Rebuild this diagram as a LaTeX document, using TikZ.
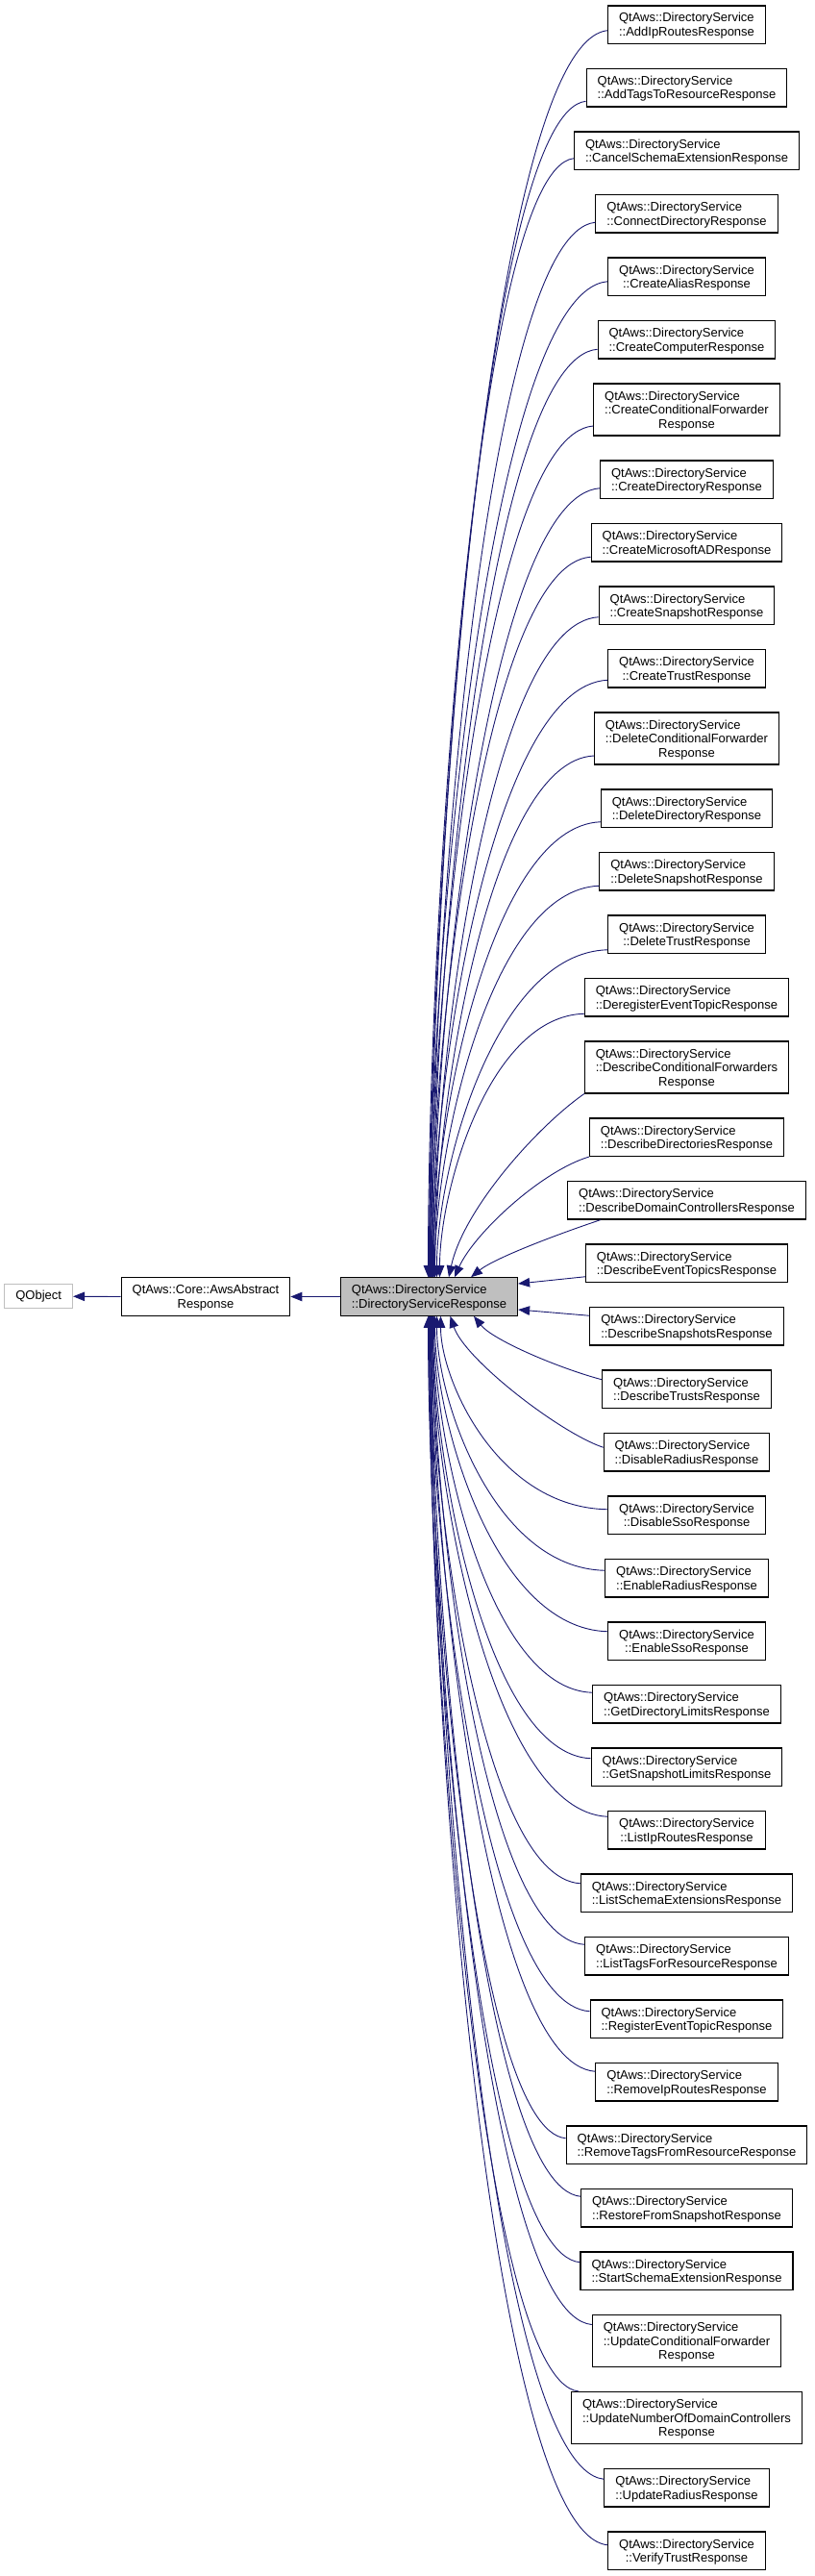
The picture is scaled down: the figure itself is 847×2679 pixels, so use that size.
\documentclass[tikz,border=0pt]{standalone}
\usepackage{fontspec}
\setmainfont{Liberation Sans}
\usetikzlibrary{arrows.meta,calc}
\definecolor{edgecol}{HTML}{191970}
\definecolor{grayfill}{HTML}{BFBFBF}
\newcommand\twol[2]{\raisebox{-1.6pt}[\height][\depth]{\begin{tabular}{@{}l@{}}#1\\\multicolumn{1}{@{}c@{}}{#2}\end{tabular}}}
\newcommand\threel[3]{\raisebox{-1.6pt}[\height][\depth]{\begin{tabular}{@{}l@{}}#1\\#2\\\multicolumn{1}{@{}c@{}}{#3}\end{tabular}}}
\newcommand\ds{QtAws::DirectoryService}
\tikzset{
  cls/.style={draw=black, line width=1.1pt, fill=white, inner xsep=11.5pt, inner ysep=0pt,
    minimum height=39.5pt, font=\fontsize{13}{14.5}\selectfont},
  clsthree/.style={cls, minimum height=54pt},
  inhedge/.style={draw=edgecol, line width=0.9pt, -{Triangle[length=12pt,width=9.5pt]}},
}
\newcommand\inh[2]{%
  \draw[inhedge] let \p1=(#1), \p2=(#2) in
    (\p1) .. controls ({\x1-0.66*(\x1-\x2)},{\y1-0.01*(\y1-\y2)}) and (\x2,{\y2+0.33*(\y1-\y2)}) .. (\p2);}
\begin{document}
\begin{tikzpicture}[x=1pt,y=-1pt]
\useasboundingbox (0,0) rectangle (847,2679);
% left chain
\node[cls, draw=grayfill, minimum height=25pt] (qo) at (40.2,1348.25) {QObject};
\node[cls] (aws) at (214,1348.5) {\twol{QtAws::Core::AwsAbstract}{Response}};
\node[cls, fill=grayfill] (ds) at (446.5,1348.5) {\twol{\ds}{::DirectoryServiceResponse}};
% right column
\node[cls] (c1) at (714.5,25.75) {\twol{\ds}{::AddIpRoutesResponse}};
\node[cls] (c2) at (714.5,91.25) {\twol{\ds}{::AddTagsToResourceResponse}};
\node[cls] (c3) at (714.5,156.75) {\twol{\ds}{::CancelSchemaExtensionResponse}};
\node[cls] (c4) at (714.5,222.25) {\twol{\ds}{::ConnectDirectoryResponse}};
\node[cls] (c5) at (714.5,287.75) {\twol{\ds}{::CreateAliasResponse}};
\node[cls] (c6) at (714.5,353.25) {\twol{\ds}{::CreateComputerResponse}};
\node[clsthree] (c7) at (714.5,426) {\threel{\ds}{::CreateConditionalForwarder}{Response}};
\node[cls] (c8) at (714.5,498.75) {\twol{\ds}{::CreateDirectoryResponse}};
\node[cls] (c9) at (714.5,564.25) {\twol{\ds}{::CreateMicrosoftADResponse}};
\node[cls] (c10) at (714.5,629.75) {\twol{\ds}{::CreateSnapshotResponse}};
\node[cls] (c11) at (714.5,695.25) {\twol{\ds}{::CreateTrustResponse}};
\node[clsthree] (c12) at (714.5,768) {\threel{\ds}{::DeleteConditionalForwarder}{Response}};
\node[cls] (c13) at (714.5,840.75) {\twol{\ds}{::DeleteDirectoryResponse}};
\node[cls] (c14) at (714.5,906.25) {\twol{\ds}{::DeleteSnapshotResponse}};
\node[cls] (c15) at (714.5,971.75) {\twol{\ds}{::DeleteTrustResponse}};
\node[cls] (c16) at (714.5,1037.25) {\twol{\ds}{::DeregisterEventTopicResponse}};
\node[clsthree] (c17) at (714.5,1110) {\threel{\ds}{::DescribeConditionalForwarders}{Response}};
\node[cls] (c18) at (714.5,1182.75) {\twol{\ds}{::DescribeDirectoriesResponse}};
\node[cls] (c19) at (714.5,1248.25) {\twol{\ds}{::DescribeDomainControllersResponse}};
\node[cls] (c20) at (714.5,1313.75) {\twol{\ds}{::DescribeEventTopicsResponse}};
\node[cls] (c21) at (714.5,1379.25) {\twol{\ds}{::DescribeSnapshotsResponse}};
\node[cls] (c22) at (714.5,1444.75) {\twol{\ds}{::DescribeTrustsResponse}};
\node[cls] (c23) at (714.5,1510.25) {\twol{\ds}{::DisableRadiusResponse}};
\node[cls] (c24) at (714.5,1575.75) {\twol{\ds}{::DisableSsoResponse}};
\node[cls] (c25) at (714.5,1641.25) {\twol{\ds}{::EnableRadiusResponse}};
\node[cls] (c26) at (714.5,1706.75) {\twol{\ds}{::EnableSsoResponse}};
\node[cls] (c27) at (714.5,1772.25) {\twol{\ds}{::GetDirectoryLimitsResponse}};
\node[cls] (c28) at (714.5,1837.75) {\twol{\ds}{::GetSnapshotLimitsResponse}};
\node[cls] (c29) at (714.5,1903.25) {\twol{\ds}{::ListIpRoutesResponse}};
\node[cls] (c30) at (714.5,1968.75) {\twol{\ds}{::ListSchemaExtensionsResponse}};
\node[cls] (c31) at (714.5,2034.25) {\twol{\ds}{::ListTagsForResourceResponse}};
\node[cls] (c32) at (714.5,2099.75) {\twol{\ds}{::RegisterEventTopicResponse}};
\node[cls] (c33) at (714.5,2165.25) {\twol{\ds}{::RemoveIpRoutesResponse}};
\node[cls] (c34) at (714.5,2230.75) {\twol{\ds}{::RemoveTagsFromResourceResponse}};
\node[cls] (c35) at (714.5,2296.25) {\twol{\ds}{::RestoreFromSnapshotResponse}};
\node[cls] (c36) at (714.5,2361.75) {\twol{\ds}{::StartSchemaExtensionResponse}};
\node[clsthree] (c37) at (714.5,2434.5) {\threel{\ds}{::UpdateConditionalForwarder}{Response}};
\node[clsthree] (c38) at (714.5,2514.5) {\threel{\ds}{::UpdateNumberOfDomainControllers}{Response}};
\node[cls] (c39) at (714.5,2587.25) {\twol{\ds}{::UpdateRadiusResponse}};
\node[cls] (c40) at (714.5,2652.75) {\twol{\ds}{::VerifyTrustResponse}};
% left arrows
\draw[inhedge] (aws.west) -- (qo.east);
\draw[inhedge] (ds.west) -- (aws.east);
% upper edges
\inh{$(c1.west)+(0,6)$}{$(ds.north)+(0,0)$}
\inh{$(c2.west)+(0,14)$}{$(ds.north)+(1,0)$}
\inh{$(c3.west)+(0,8)$}{$(ds.north)+(-1,0)$}
\inh{$(c4.west)+(0,9)$}{$(ds.north)+(2,0)$}
\inh{$(c5.west)+(0,5)$}{$(ds.north)+(0,0)$}
\inh{$(c6.west)+(0,10)$}{$(ds.north)+(3,0)$}
\inh{$(c7.west)+(0,17)$}{$(ds.north)+(1,0)$}
\inh{$(c8.west)+(0,9)$}{$(ds.north)+(4,0)$}
\inh{$(c9.west)+(0,15)$}{$(ds.north)+(2,0)$}
\inh{$(c10.west)+(0,12)$}{$(ds.north)+(5,0)$}
\inh{$(c11.west)+(0,12)$}{$(ds.north)+(3,0)$}
\inh{$(c12.west)+(0,18)$}{$(ds.north)+(6,0)$}
\inh{$(c13.west)+(0,14)$}{$(ds.north)+(4,0)$}
\inh{$(c14.west)+(0,15)$}{$(ds.north)+(6,0)$}
\inh{$(c15.west)+(0,16)$}{$(ds.north)+(8,0)$}
\inh{$(c16.west)+(0,17)$}{$(ds.north)+(11,0)$}
\draw[inhedge] (c17.south west) .. controls +(-50,35) and +(15,-70) .. ($(ds.north)+(20.5,0)$);
\draw[inhedge] (c18.south west) .. controls +(-50,15) and +(20,-45) .. ($(ds.north)+(26.5,0)$);
\draw[inhedge] ($(c19.south west)+(35,0)$) .. controls +(-45,15) and +(25,-20) .. ($(ds.north)+(43.5,0)$);
\draw[inhedge] ($(c20.west)+(0,14)$) -- ($(ds.east)+(0,-13.5)$);
\draw[inhedge] ($(c21.west)+(0,-11)$) -- ($(ds.east)+(0,13.5)$);
% lower edges
\draw[inhedge] ($(c22.west)+(0,-10)$) .. controls +(-45,-12) and +(20,25) .. ($(ds.south)+(46.5,0)$);
\draw[inhedge] ($(c23.west)+(0,-5)$) .. controls +(-45,-15) and +(15,45) .. ($(ds.south)+(22,0)$);
\inh{$(c24.west)+(0,-6)$}{$(ds.south)+(12,0)$}
\inh{$(c25.west)+(0,-8)$}{$(ds.south)+(8,0)$}
\inh{$(c26.west)+(0,-10)$}{$(ds.south)+(6,0)$}
\inh{$(c27.west)+(0,-12)$}{$(ds.south)+(5,0)$}
\inh{$(c28.west)+(0,-9)$}{$(ds.south)+(4,0)$}
\inh{$(c29.west)+(0,-14)$}{$(ds.south)+(3,0)$}
\inh{$(c30.west)+(0,-10)$}{$(ds.south)+(2,0)$}
\inh{$(c31.west)+(0,-12)$}{$(ds.south)+(4,0)$}
\inh{$(c32.west)+(0,-8)$}{$(ds.south)+(1,0)$}
\inh{$(c33.west)+(0,-11)$}{$(ds.south)+(3,0)$}
\inh{$(c34.west)+(0,-7)$}{$(ds.south)+(0,0)$}
\inh{$(c35.west)+(0,-12)$}{$(ds.south)+(2,0)$}
\inh{$(c36.west)+(0,-9)$}{$(ds.south)+(-1,0)$}
\inh{$(c37.west)+(0,-17)$}{$(ds.south)+(1,0)$}
\inh{$(c38.north west)+(8,0)$}{$(ds.south)+(0,0)$}
\inh{$(c39.west)+(0,-9)$}{$(ds.south)+(2,0)$}
\inh{$(c40.west)+(0,-6)$}{$(ds.south)+(0,0)$}
\end{tikzpicture}
\end{document}
